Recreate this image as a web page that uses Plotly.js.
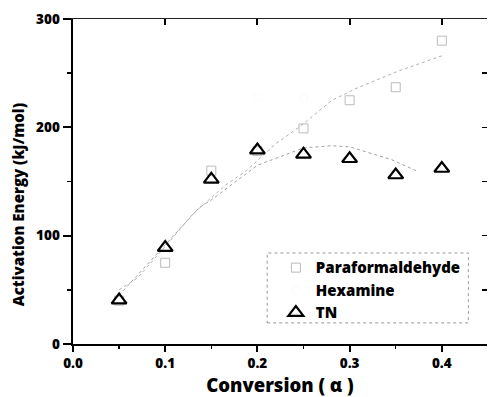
<!DOCTYPE html>
<html><head><meta charset="utf-8">
<script src="https://cdn.plot.ly/plotly-3.0.1.min.js"></script>
<style>html,body{margin:0;padding:0;background:#fff}#c{width:488px;height:397px}</style>
</head><body><div id="c"></div>
<script>
// Data
const conversion = [0.05, 0.10, 0.15, 0.20, 0.25, 0.30, 0.35, 0.40];
const paraformaldehyde = [40, 75, 160, 178, 199, 225, 237, 280];
const hexamineX = [0.20, 0.25];
const hexamine = [228, 227];
const tn = [40.5, 89, 152, 179, 175, 171, 156, 162];
// fitted curves
const paraFitX = [0.05, 0.07, 0.10, 0.13, 0.166, 0.188, 0.22, 0.245, 0.281, 0.31, 0.353, 0.386, 0.40];
const paraFit  = [50, 61, 90, 120, 147, 160, 185, 200, 225, 237, 252, 262, 266];
const tnFitX = [0.05, 0.10, 0.137, 0.15, 0.20, 0.25, 0.28, 0.30, 0.346, 0.372];
const tnFit  = [45, 92, 126, 133, 165, 181, 183, 182, 170, 160];
const xTicks = [0.0, 0.1, 0.2, 0.3, 0.4];
const xTickText = ['0.0', '0.1', '0.2', '0.3', '0.4'];
const yTicks = [0, 100, 200, 300];
const yTickText = ['0', '100', '200', '300'];

const FONT = 'Open Sans';
const traces = [
  {x: paraFitX, y: paraFit, mode: 'lines', line: {color: '#b0b0b0', width: 1, dash: 'dot'}, showlegend: false, hoverinfo: 'skip'},
  {x: tnFitX, y: tnFit, mode: 'lines', line: {color: '#a0a0a0', width: 1, dash: 'dot'}, showlegend: false, hoverinfo: 'skip'},
  {x: conversion, y: paraformaldehyde, name: 'Paraformaldehyde', mode: 'markers',
   marker: {symbol: 'square-open', size: 9, color: '#bbbbbb', line: {width: 1, color: '#bbbbbb'}}},
  {x: hexamineX, y: hexamine, name: 'Hexamine', mode: 'markers',
   marker: {symbol: 'circle-open', size: 8, color: '#fbfbfb', line: {width: 1, color: '#fbfbfb'}}},
  {x: conversion, y: tn, name: 'TN', mode: 'markers',
   marker: {symbol: 'triangle-up-open', size: 13, color: '#000', line: {width: 2.2, color: '#000'}}}
];

const layout = {
  width: 488, height: 397,
  margin: {l: 73, r: 1, t: 19, b: 53},
  paper_bgcolor: '#fff', plot_bgcolor: '#fff',
  font: {family: FONT, color: '#000', weight: 800},
  showlegend: true,
  legend: {x: 0.49, y: 0.285, xanchor: 'left', yanchor: 'top', bgcolor: 'rgba(0,0,0,0)',
           borderwidth: 0, font: {family: FONT, size: 15, color: '#000', weight: 800}, tracegroupgap: 0, itemwidth: 30},
  xaxis: {range: [0, 0.449], tickvals: xTicks, ticktext: xTickText, ticks: 'outside', ticklen: 6, tickwidth: 2,
          tickcolor: '#000', showline: true, linecolor: '#000', linewidth: 2, showgrid: false, zeroline: false,
          minor: {dtick: 0.05, ticks: 'outside', ticklen: 3, tickwidth: 1.5, tickcolor: '#000'},
          tickfont: {family: FONT, size: 13.5, color: '#000', weight: 800},
          title: {text: 'Conversion ( α )', font: {family: FONT, size: 18.5, color: '#000', weight: 800}, standoff: 9}},
  yaxis: {range: [0, 300], tickvals: yTicks, ticktext: yTickText, ticks: 'outside', ticklen: 8, tickwidth: 2, tickcolor: '#000',
          showline: true, linecolor: '#000', linewidth: 2.5, showgrid: false, zeroline: false,
          minor: {dtick: 50, ticks: 'outside', ticklen: 4, tickwidth: 1.5, tickcolor: '#000'},
          tickfont: {family: FONT, size: 13.5, color: '#000', weight: 800}},
  xaxis2: {overlaying: 'x', side: 'top', range: [0, 0.449], tickvals: xTicks, showticklabels: false,
           ticks: 'inside', ticklen: 6, tickwidth: 2, tickcolor: '#000', showline: true, linecolor: '#222',
           linewidth: 1.5, showgrid: false, zeroline: false},
  yaxis2: {overlaying: 'y', side: 'right', range: [0, 300], tickvals: [50, 100, 150, 200, 250], showticklabels: false,
           ticks: 'inside', ticklen: 5, tickwidth: 1.5, tickcolor: '#000', showline: false, showgrid: false, zeroline: false},
  annotations: [
    {text: 'Activation Energy (kJ/mol)', xref: 'paper', yref: 'paper', x: -0.133, y: 0.43,
     xanchor: 'center', yanchor: 'middle', textangle: -90, showarrow: false,
     font: {family: FONT, size: 15, color: '#000', weight: 800}}
  ],
  shapes: [
    {type: 'rect', xref: 'paper', yref: 'paper', x0: 0.469, x1: 0.955, y0: 0.065, y1: 0.28,
     line: {color: '#999', width: 1, dash: 'dot'}, fillcolor: 'rgba(0,0,0,0)'}
  ]
};
// invisible point to activate the mirror axes
traces.push({x: [0.1], y: [-10], xaxis: 'x2', yaxis: 'y2', mode: 'markers', showlegend: false, hoverinfo: 'skip', marker: {opacity: 0}});
Plotly.newPlot('c', traces, layout, {staticPlot: true});
</script></body></html>
